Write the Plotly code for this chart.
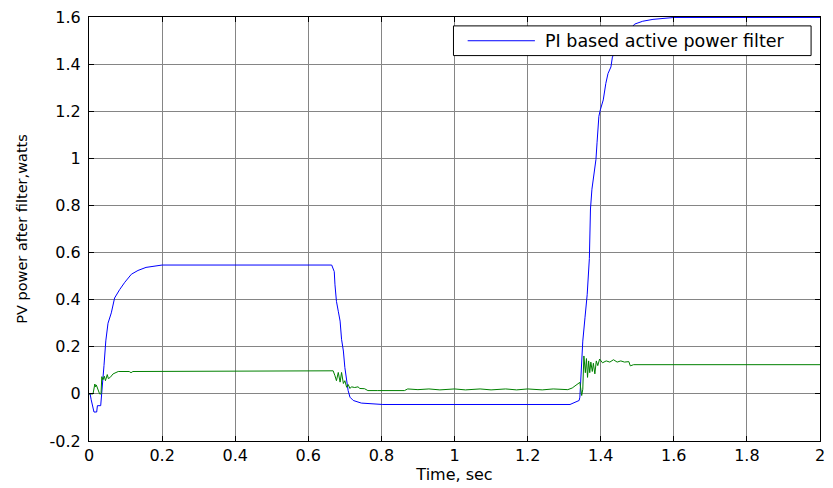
import plotly.graph_objects as go

# ---- data ----
t_pi = [0, 0.003, 0.006, 0.0136, 0.021, 0.023, 0.032, 0.035, 0.041, 0.046, 0.052, 0.061, 0.07,
        0.084, 0.098, 0.116, 0.134, 0.156, 0.183, 0.2, 0.664, 0.671, 0.673, 0.677, 0.682, 0.687,
        0.691, 0.696, 0.700, 0.705, 0.709, 0.714, 0.723, 0.745, 0.804, 1.316, 1.341, 1.343,
        1.351, 1.357, 1.363, 1.369, 1.370, 1.372, 1.376, 1.380, 1.387, 1.390, 1.395, 1.399,
        1.407, 1.414, 1.420, 1.428, 1.432, 1.45, 1.47, 1.493, 1.515, 1.543, 1.597, 1.6, 2.0]
p_pi = [0, 0, -0.025, -0.077, -0.077, -0.05, -0.05, 0.0, 0.12, 0.225, 0.30, 0.344, 0.407,
        0.443, 0.474, 0.508, 0.524, 0.537, 0.545, 0.547, 0.547, 0.519, 0.463, 0.393, 0.351, 0.309,
        0.232, 0.182, 0.112, 0.056, 0.014, -0.014, -0.028, -0.039, -0.045, -0.045, -0.028, -0.014,
        0.224, 0.323, 0.421, 0.575, 0.673, 0.785, 0.869, 0.911, 0.995, 1.066, 1.178, 1.206,
        1.248, 1.318, 1.36, 1.388, 1.43, 1.48, 1.53, 1.57, 1.582, 1.59, 1.596, 1.598, 1.598]

t_pv = [0, 0.011, 0.016, 0.018, 0.020, 0.024, 0.029, 0.033, 0.035, 0.038, 0.042, 0.045, 0.050,
        0.053, 0.058, 0.066, 0.080, 0.110, 0.115, 0.120, 0.300, 0.500, 0.668, 0.673, 0.677,
        0.682, 0.687, 0.691, 0.696, 0.700, 0.705, 0.709, 0.714, 0.718, 0.727, 0.736, 0.741,
        0.754, 0.763, 0.790, 0.863, 0.872, 0.90, 0.93, 0.96, 1.00, 1.03, 1.07, 1.10, 1.14, 1.17,
        1.20, 1.24, 1.27, 1.31, 1.322, 1.334, 1.343, 1.348, 1.351, 1.354, 1.358, 1.361, 1.364,
        1.367, 1.370, 1.373, 1.377, 1.380, 1.384, 1.388, 1.392, 1.397, 1.405, 1.415, 1.425,
        1.435, 1.445, 1.455, 1.465, 1.477, 1.481, 1.49, 2.0]
p_pv = [0, 0, 0.042, 0.030, 0.038, 0.020, 0.0, 0.0, 0.073, 0.060, 0.075, 0.056, 0.082,
        0.065, 0.070, 0.085, 0.095, 0.095, 0.090, 0.095, 0.097, 0.098, 0.098, 0.077, 0.056,
        0.091, 0.050, 0.091, 0.044, 0.056, 0.028, 0.040, 0.023, 0.030, 0.027, 0.030, 0.023,
        0.022, 0.014, 0.014, 0.014, 0.021, 0.018, 0.021, 0.017, 0.021, 0.017, 0.021, 0.017, 0.021,
        0.017, 0.021, 0.017, 0.021, 0.018, 0.025, 0.040, 0.049, -0.007, 0.02, 0.161, 0.09, 0.15,
        0.07, 0.14, 0.09, 0.135, 0.095, 0.13, 0.085, 0.14, 0.12, 0.148, 0.132, 0.14, 0.135,
        0.145, 0.135, 0.14, 0.135, 0.137, 0.119, 0.124, 0.124]

x_ticks = [0, 0.2, 0.4, 0.6, 0.8, 1, 1.2, 1.4, 1.6, 1.8, 2]
x_labels = ["0", "0.2", "0.4", "0.6", "0.8", "1", "1.2", "1.4", "1.6", "1.8", "2"]
y_ticks = [-0.2, 0, 0.2, 0.4, 0.6, 0.8, 1, 1.2, 1.4, 1.6]
y_labels = ["-0.2", "0", "0.2", "0.4", "0.6", "0.8", "1", "1.2", "1.4", "1.6"]
legend_text = "PI based active power filter"

FONT = "DejaVu Sans"

fig = go.Figure()
fig.add_trace(go.Scatter(x=t_pi, y=p_pi, mode="lines", name=legend_text,
                         line=dict(color="#0000ff", width=1), showlegend=False))
fig.add_trace(go.Scatter(x=t_pv, y=p_pv, mode="lines", name="PV power",
                         line=dict(color="#008000", width=1), showlegend=False))

axis_common = dict(showline=True, linecolor="black", linewidth=1, mirror="ticks",
                   ticks="inside", ticklen=5, tickcolor="black", showgrid=True,
                   gridcolor="#858585", gridwidth=1, zeroline=False,
                   tickfont=dict(family=FONT, size=16, color="black"))

fig.update_xaxes(range=[0, 2], tickvals=x_ticks, ticktext=x_labels,
                 title=dict(text="Time, sec", font=dict(family=FONT, size=16, color="black"),
                            standoff=4),
                 **axis_common)
fig.update_yaxes(range=[-0.2, 1.6], tickvals=y_ticks, ticktext=y_labels,
                 ticklabelstandoff=4,
                 title=dict(text="PV power after filter,watts",
                            font=dict(family=FONT, size=14.5, color="black"), standoff=18),
                 **axis_common)

# legend box drawn in the plot-area (paper) frame
fig.add_shape(type="rect", xref="paper", yref="paper", x0=0.4986, x1=0.9878, y0=0.909, y1=0.979,
              fillcolor="white", line=dict(color="black", width=1), layer="above")
fig.add_shape(type="line", xref="paper", yref="paper", x0=0.518, x1=0.610, y0=0.944, y1=0.944,
              line=dict(color="#0000ff", width=1), layer="above")
fig.add_annotation(xref="paper", yref="paper", x=0.621, y=0.944, xanchor="left", yanchor="middle",
                   text=legend_text, showarrow=False,
                   font=dict(family=FONT, size=17.5, color="black"))

fig.update_layout(width=833, height=488, margin=dict(l=89, r=8, t=13, b=47),
                  paper_bgcolor="white", plot_bgcolor="white", showlegend=False)

fig.write_html("out.html")
